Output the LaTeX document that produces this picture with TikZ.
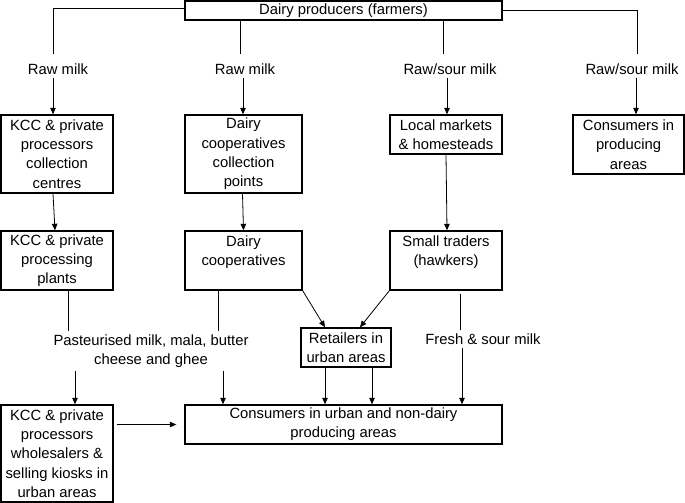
\documentclass[tikz,border=0pt]{standalone}
\usepackage{fontspec}
\setmainfont{Liberation Sans}
\usetikzlibrary{arrows.meta}
\begin{document}
\begin{tikzpicture}[x=1pt,y=-1pt,
  txt/.style={font=\fontsize{14.8}{19.3}\selectfont, align=center},
  box/.style={txt, draw, line width=1.4pt, rectangle, inner sep=0pt},
  lbl/.style={txt, inner xsep=2pt, inner ysep=3pt},
  con/.style={line width=0.8pt},
  arr/.style={con, -{Triangle[length=6.5pt,width=5.5pt]}}
]
\fill[white] (0,0) rectangle (685,503);
\useasboundingbox (0,0) rectangle (685,503);

% boxes
\node[box, minimum width=317pt, minimum height=19pt] (top) at (343.5,10.5) {Dairy producers (farmers)};
\node[box, minimum width=112pt, minimum height=78pt] (A1) at (57,154) {KCC \& private\\processors\\collection\\centres};
\node[box, minimum width=117pt, minimum height=78pt] (B1) at (243.5,154) {Dairy\\cooperatives\\collection\\points};
\node[box, minimum width=112pt, minimum height=39pt] (C1) at (446,134.5) {Local markets\\\& homesteads};
\node[box, minimum width=111pt, minimum height=59pt] (D1) at (628.5,144.5) {Consumers in\\producing\\areas};
\node[box, minimum width=112pt, minimum height=59pt] (A2) at (57,260.5) {KCC \& private\\processing\\plants};
\node[box, minimum width=117pt, minimum height=59pt] (B2) at (243.5,260.5) {Dairy\\cooperatives\\\mbox{}};
\node[box, minimum width=112pt, minimum height=59pt] (C2) at (446,260.5) {Small traders\\(hawkers)\\\mbox{}};
\node[box, minimum width=90pt, minimum height=39pt] (R) at (346,347.5) {Retailers in\\urban areas};
\node[box, minimum width=112pt, minimum height=97pt] (A4) at (57,453.5) {KCC \& private\\processors\\wholesalers \&\\selling kiosks in\\urban areas};
\node[box, minimum width=317pt, minimum height=39pt] (CU) at (343.5,424.5) {Consumers in urban and non-dairy\\producing areas};

% labels
\node[lbl] (L1) at (58,69) {Raw milk};
\node[lbl] (L2) at (245,69) {Raw milk};
\node[lbl] (L3) at (450,69) {Raw/sour milk};
\node[lbl] (L4) at (632,69) {Raw/sour milk};
\node[lbl] (LP) at (151,351) {Pasteurised milk, mala, butter\\cheese and ghee};
\node[lbl] (LF) at (483,339) {Fresh \& sour milk};

% from producers
\draw[con] ([yshift=2.5pt]top.west) -| ([xshift=-5pt,yshift=6pt]L1.north);
\draw[arr] ([xshift=-5pt]L1.south) -- ([xshift=-5pt]L1.south |- A1.north);
\draw[con] ([xshift=-5pt]L2.north |- top.south) -- ([xshift=-5pt,yshift=6pt]L2.north);
\draw[arr] ([xshift=-2pt]L2.south) -- ([xshift=-2pt]L2.south |- B1.north);
\draw[con] ([xshift=-7pt]L3.north |- top.south) -- ([xshift=-7pt,yshift=6pt]L3.north);
\draw[arr] ([xshift=-3pt]L3.south) -- ([xshift=-3pt]L3.south |- C1.north);
\draw[con] (top.east) -| ([xshift=5pt,yshift=6pt]L4.north);
\draw[arr] ([xshift=4pt]L4.south) -- ([xshift=4pt]L4.south |- D1.north);

% vertical chains
\draw[arr] ([xshift=-4pt]A1.south) -- ([xshift=-2pt]A2.north);
\draw[arr] ([xshift=-1pt]B1.south) -- (B2.north);
\draw[arr] (C1.south) -- ([xshift=1pt]C2.north);

% processing plants / cooperatives to consumers
\draw[con] ([xshift=11pt]A2.south) -- ([xshift=11pt]A2.south |- LP.north);
\draw[arr] ([xshift=18pt]A4.north |- LP.south) -- ([xshift=18pt]A4.north);
\draw[con] ([xshift=-25.5pt]B2.south) -- ([xshift=-25.5pt]B2.south |- LP.north);
\draw[arr] ([xshift=-120.5pt]CU.north |- LP.south) -- ([xshift=-120.5pt]CU.north);

% to retailers
\draw[arr] (B2.south east) -- ([xshift=-21pt]R.north);
\draw[arr] (C2.south west) -- ([xshift=14pt]R.north);
\draw[arr] ([xshift=-21pt]R.south) -- ([xshift=-21pt]R.south |- CU.north);
\draw[arr] ([xshift=26pt]R.south) -- ([xshift=26pt]R.south |- CU.north);

% hawkers fresh milk
\draw[con] ([xshift=14pt,yshift=-3pt]C2.south) -- ([xshift=14pt]C2.south |- LF.north);
\draw[arr] ([xshift=16pt]C2.south |- LF.south) -- ([xshift=16pt]C2.south |- CU.north);

% wholesalers to consumers
\draw[arr] ([xshift=3pt]A4.east |- CU.west) -- ([xshift=-8pt]CU.west);
\end{tikzpicture}
\end{document}
